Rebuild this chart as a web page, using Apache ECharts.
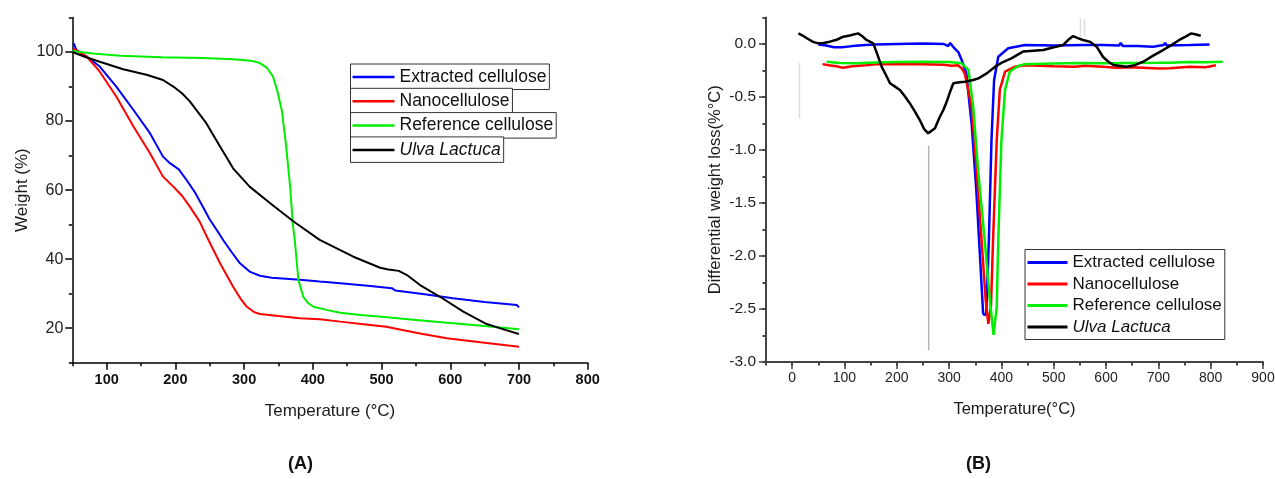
<!DOCTYPE html>
<html>
<head>
<meta charset="utf-8">
<title>TGA / DTG</title>
<script src="https://cdn.jsdelivr.net/npm/echarts@6/dist/echarts.min.js"></script>
<style>
  html, body { margin: 0; padding: 0; background: #fff; }
  #chart { width: 1275px; height: 479px; }
</style>
</head>
<body>
<div id="chart"></div>
<script>
// (A) weight (%) vs temperature (°C)
const extractedTGA = [[52,102.6],[56,100.6],[70,98.8],[90,95.8],[114,90],[139,83.2],[163,76.5],[182,69.7],[192,67.8],[205,66],[216,63],[228,59.5],[240,55.2],[250,51.5],[260,48.5],[270,45.4],[282,42],[294,38.8],[308,36.4],[323,35.2],[340,34.6],[381,34],[410,33.5],[440,33],[480,32.3],[515,31.6],[520,30.9],[560,29.9],[604,28.7],[650,27.6],[697,26.7],[700,26]]
const nanoTGA = [[52,101],[60,100],[71,98.7],[90,94.3],[114,87.1],[139,78.4],[163,70.7],[182,63.9],[197,61],[210,58.3],[221,55.2],[235,51],[248,45.6],[265,38.8],[284,32],[295,28.5],[304,26.2],[315,24.6],[323,24.1],[350,23.5],[381,22.9],[410,22.6],[440,21.9],[480,21],[507,20.4],[532,19.4],[560,18.3],[595,17.1],[650,15.8],[700,14.6]]
const referenceTGA = [[50,100.3],[80,99.6],[120,98.9],[180,98.5],[240,98.3],[284,97.9],[310,97.5],[323,96.8],[333,95.5],[342,92.9],[348,89],[355,83],[361,73],[367,61],[371,50],[374,45],[379,34],[386,29.1],[393,27.3],[401,26.2],[420,25.3],[440,24.5],[470,23.8],[508,23.2],[550,22.4],[604,21.4],[650,20.6],[700,19.7]]
const ulvaTGA = [[50,100],[70,98.5],[90,97.2],[124,95],[158,93.4],[182,91.9],[197,90],[210,88],[221,85.7],[245,79.4],[265,72.6],[284,66.3],[308,61],[338,56.2],[372,50.9],[410,45.6],[459,40.7],[498,37.5],[510,37],[512,37.4],[525,36.6],[537,35.4],[556,32.5],[585,29.1],[619,24.8],[653,21.2],[680,19.5],[700,18.3]]

// (B) differential weight loss (%/°C) vs temperature (°C)
const extractedDTG = [[50,-0.005],[65,-0.015],[80,-0.03],[95,-0.03],[115,-0.02],[140,-0.01],[160,-0.005],[200,0],[250,0.005],[290,0],[298,-0.02],[302,0.01],[310,-0.04],[318,-0.08],[324,-0.15],[333,-0.28],[343,-0.75],[352,-1.38],[359,-2.0],[365,-2.54],[368,-2.56],[371,-2.54],[376,-1.85],[381,-0.91],[386,-0.34],[394,-0.12],[413,-0.04],[445,-0.01],[500,-0.015],[560,-0.01],[594,-0.01],[625,-0.015],[628,0.01],[632,-0.02],[660,-0.02],[690,-0.025],[710,-0.01],[713,0.01],[716,-0.015],[760,-0.01],[798,-0.005]]
const nanoDTG = [[58,-0.19],[70,-0.2],[85,-0.21],[97,-0.225],[115,-0.21],[140,-0.2],[160,-0.19],[200,-0.19],[250,-0.19],[290,-0.195],[305,-0.205],[317,-0.2],[324,-0.23],[330,-0.28],[343,-0.59],[353,-1.22],[362,-1.85],[370,-2.42],[375,-2.64],[380,-2.48],[384,-1.85],[391,-0.91],[397,-0.43],[407,-0.26],[426,-0.214],[445,-0.2],[500,-0.21],[540,-0.215],[560,-0.205],[594,-0.214],[620,-0.225],[650,-0.22],[700,-0.23],[722,-0.229],[760,-0.215],[790,-0.22],[810,-0.2]]
const referenceDTG = [[66,-0.167],[90,-0.18],[123,-0.182],[160,-0.175],[200,-0.17],[250,-0.167],[300,-0.17],[314,-0.176],[324,-0.182],[337,-0.245],[346,-0.59],[356,-1.22],[368,-1.85],[378,-2.42],[385,-2.745],[391,-2.48],[394,-1.85],[400,-0.91],[407,-0.43],[416,-0.26],[432,-0.208],[445,-0.19],[500,-0.185],[550,-0.18],[594,-0.182],[640,-0.18],[700,-0.178],[722,-0.176],[760,-0.17],[790,-0.172],[823,-0.167]]
const ulvaDTG = [[12,0.1],[20,0.08],[28,0.054],[40,0.02],[50,0.006],[60,0.01],[72,0.022],[85,0.04],[98,0.069],[110,0.08],[126,0.1],[135,0.07],[142,0.038],[155,0.006],[163,-0.1],[171,-0.214],[180,-0.3],[187,-0.37],[196,-0.4],[206,-0.434],[215,-0.49],[225,-0.56],[235,-0.64],[244,-0.717],[252,-0.8],[260,-0.843],[266,-0.82],[273,-0.795],[281,-0.7],[289,-0.623],[295,-0.55],[302,-0.45],[308,-0.37],[320,-0.36],[330,-0.356],[346,-0.34],[356,-0.324],[372,-0.277],[388,-0.214],[403,-0.17],[419,-0.135],[442,-0.07],[480,-0.057],[500,-0.03],[518,-0.009],[528,0.04],[537,0.075],[546,0.055],[556,0.038],[570,0.02],[582,-0.025],[594,-0.12],[605,-0.17],[614,-0.198],[639,-0.214],[655,-0.2],[671,-0.167],[690,-0.11],[709,-0.057],[725,-0.01],[740,0.038],[752,0.07],[763,0.1],[772,0.09],[781,0.078]]
// grey vertical marks left in the original figure
const markerLines = [[[261,-0.96],[261,-2.89]], [[14,-0.18],[14,-0.7]], [[551,0.245],[551,0.06]], [[559,0.23],[559,0.07]]]

const names = ['Extracted cellulose', 'Nanocellulose', 'Reference cellulose', 'Ulva Lactuca']
const colors = ['#0000ff', '#ff0000', '#00ee00', '#000000']

const tempTicksA = [100, 200, 300, 400, 500, 600, 700, 800]
const weightTicks = [20, 40, 60, 80, 100]
const tempTicksB = [0, 100, 200, 300, 400, 500, 600, 700, 800, 900]
const dtgTicks = [-3, -2.5, -2, -1.5, -1, -0.5, 0]

const FONT = 'Liberation Sans, Arial, sans-serif'
const chart = echarts.init(document.getElementById('chart'))

// second axis on the same grid, only for the long ticks under labels
function longTicks(grid, pos, min, max, values, color) {
  return {
    type: 'value', gridIndex: grid, position: pos, min: min, max: max,
    axisLine: { show: false, onZero: false },
    axisLabel: { show: false },
    splitLine: { show: false },
    axisTick: { show: true, customValues: values, length: 7, lineStyle: { color: color, width: 1.5 } }
  }
}

const axA = { color: '#000', width: 1.5 }
const axB = { color: '#444', width: 2 }

const lineSeries = function (name, data, i, xi, yi, w) {
  return {
    name: name, type: 'line', data: data, xAxisIndex: xi, yAxisIndex: yi,
    symbol: 'none', smooth: false, clip: true,
    lineStyle: { color: colors[i], width: w }, itemStyle: { color: colors[i] }
  }
}

const legendA = names.map((n, i) => ({
  data: [{ name: n, textStyle: { fontStyle: i === 3 ? 'italic' : 'normal' } }],
  left: 350.5, top: 64 + i * 24.3,
  orient: 'horizontal',
  icon: 'rect', itemWidth: 42, itemHeight: 2.5,
  borderColor: '#333', borderWidth: 1, padding: [4, 3, 3.5, 2],
  backgroundColor: '#fff',
  textStyle: { fontSize: 17.5, color: '#111', fontFamily: FONT }
}))

const legendB = {
  data: names.map((n, i) => ({ name: n, textStyle: { fontStyle: i === 3 ? 'italic' : 'normal' } })),
  left: 1025, top: 249.5, orient: 'vertical',
  icon: 'rect', itemWidth: 40, itemHeight: 3, itemGap: 4.5,
  borderColor: '#333', borderWidth: 1, padding: [4.5, 3, 4, 2.5],
  backgroundColor: '#fff',
  textStyle: { fontSize: 17, lineHeight: 17, color: '#111', fontFamily: FONT }
}

chart.setOption({
  animation: false,
  textStyle: { fontFamily: FONT },
  grid: [
    { left: 72.3, top: 17.5, width: 515.4, height: 345.2, outerBoundsMode: 'none' },
    { left: 766, top: 17.5, width: 497, height: 344.5, outerBoundsMode: 'none' }
  ],
  legend: legendA.concat([legendB]),
  xAxis: [
    {
      type: 'value', gridIndex: 0, position: 'bottom', min: 50, max: 800, interval: 50,
      name: 'Temperature (°C)', nameLocation: 'middle', nameGap: 40,
      nameTextStyle: { fontSize: 17, color: '#1a1a1a' },
      axisLine: { onZero: false, lineStyle: axA },
      axisTick: { length: 3.5, lineStyle: axA },
      axisLabel: { customValues: tempTicksA, margin: 10, fontSize: 14.5, fontWeight: 'bold', color: '#111' },
      splitLine: { show: false }
    },
    longTicks(0, 'bottom', 50, 800, tempTicksA, '#000'),
    {
      type: 'value', gridIndex: 1, position: 'bottom', min: -50, max: 900, interval: 50,
      name: 'Temperature(°C)', nameLocation: 'middle', nameGap: 39,
      nameTextStyle: { fontSize: 16.5, color: '#1a1a1a' },
      axisLine: { onZero: false, lineStyle: axB },
      axisTick: { length: 3.5, lineStyle: axB },
      axisLabel: { customValues: tempTicksB, margin: 9, fontSize: 14, color: '#222' },
      splitLine: { show: false }
    },
    longTicks(1, 'bottom', -50, 900, tempTicksB, '#444')
  ],
  yAxis: [
    {
      type: 'value', gridIndex: 0, position: 'left', min: 10, max: 110, interval: 10,
      name: 'Weight (%)', nameLocation: 'middle', nameGap: 41,
      nameTextStyle: { fontSize: 17, color: '#1a1a1a' },
      axisLine: { onZero: false, lineStyle: axA },
      axisTick: { length: 3.5, lineStyle: axA },
      axisLabel: { customValues: weightTicks, margin: 9, fontSize: 16, color: '#222' },
      splitLine: { show: false }
    },
    longTicks(0, 'left', 10, 110, weightTicks, '#000'),
    {
      type: 'value', gridIndex: 1, position: 'left', min: -3, max: 0.25, interval: 0.25,
      name: 'Differential weight loss(%°C)', nameLocation: 'middle', nameGap: 42,
      nameTextStyle: { fontSize: 16.5, color: '#1a1a1a' },
      axisLine: { onZero: false, lineStyle: axB },
      axisTick: { length: 3.5, lineStyle: axB },
      axisLabel: { customValues: dtgTicks, margin: 10, fontSize: 15.5, color: '#222',
        formatter: v => v.toFixed(1) },
      splitLine: { show: false }
    },
    longTicks(1, 'left', -3, 0.25, dtgTicks, '#444')
  ],
  series: [
    lineSeries(names[0], extractedTGA, 0, 0, 0, 2),
    lineSeries(names[1], nanoTGA, 1, 0, 0, 2),
    lineSeries(names[2], referenceTGA, 2, 0, 0, 2),
    lineSeries(names[3], ulvaTGA, 3, 0, 0, 2)
  ].concat(markerLines.map((d, k) => ({
    type: 'line', data: d, xAxisIndex: 2, yAxisIndex: 2, symbol: 'none', silent: true,
    lineStyle: { color: k === 0 ? '#b5b5b5' : '#dddddd', width: 1.5 }
  }))).concat([
    lineSeries(names[0], extractedDTG, 0, 2, 2, 2.5),
    lineSeries(names[1], nanoDTG, 1, 2, 2, 2.5),
    lineSeries(names[2], referenceDTG, 2, 2, 2, 2.5),
    lineSeries(names[3], ulvaDTG, 3, 2, 2, 2.5)
  ]),
  graphic: [
    { type: 'text', left: 288, top: 455, style: { text: '(A)', font: 'bold 18px Liberation Sans', fill: '#111' } },
    { type: 'text', left: 966, top: 455, style: { text: '(B)', font: 'bold 18px Liberation Sans', fill: '#111' } }
  ]
})
</script>
</body>
</html>
